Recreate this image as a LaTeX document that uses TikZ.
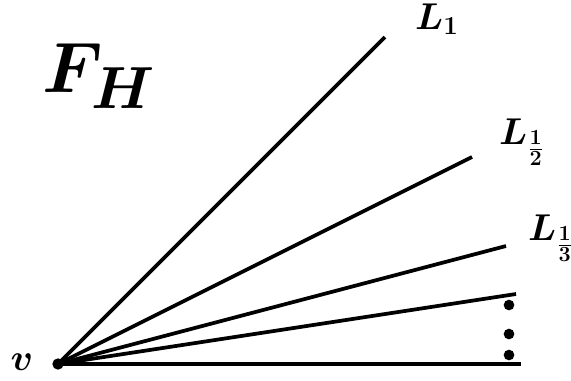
\documentclass[tikz,border=0pt]{standalone}
\usepackage{amsmath}
\begin{document}
\begin{tikzpicture}[x=0.75pt,y=-0.75pt,line width=2.8pt,
    lab/.style={font=\huge\boldmath},
    dot/.style={circle,fill,inner sep=0pt,minimum size=8.5pt}]
			\useasboundingbox (0,0) rectangle (571,380);
			\node[dot] (v) at (58,364) {};
			\node[lab] at (22,362) {\scalebox{1.35}{$v$}};
			\node[font=\Huge\boldmath] at (99,76) {\scalebox{2.15}{$F_H$}};
			\coordinate (a) at (385,37);
			\coordinate (b) at (472,157);
			\coordinate (c) at (506,246);
			\coordinate (d) at (516,294);
			\coordinate (e) at (521,364);
			\foreach \p in {a,b,c,d,e} \draw (v.center)--(\p);
			\node[lab] at (437,19) {\scalebox{1.35}{$L_1$}};
			\node[lab] at (522,142) {\scalebox{1.35}{$L_{\frac{1}{2}}$}};
			\node[lab] at (551,238) {\scalebox{1.35}{$L_{\frac{1}{3}}$}};
			\foreach \y in {305,334,355} \node[dot,minimum size=8pt] at (509,\y) {};
		\end{tikzpicture}
\end{document}
